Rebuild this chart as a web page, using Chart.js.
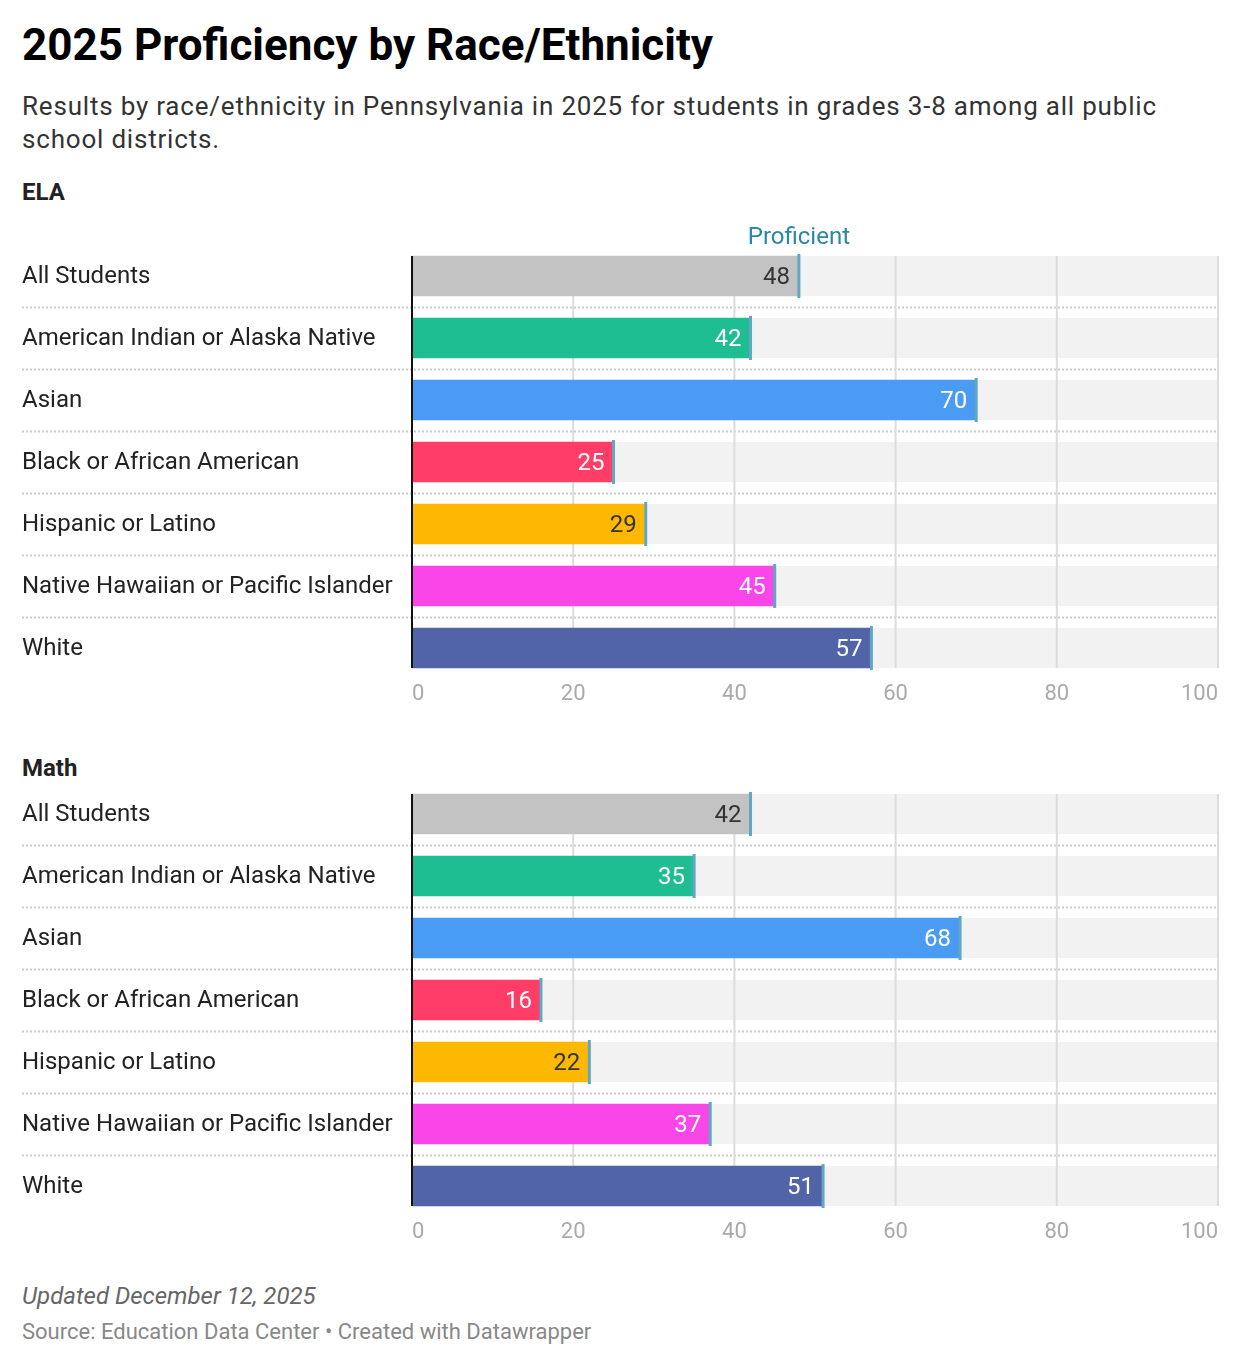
<!DOCTYPE html>
<html>
<head>
<meta charset="utf-8">
<script src="https://cdn.jsdelivr.net/npm/chart.js@4.4.1/dist/chart.umd.min.js"></script>
<style>
  html, body { margin: 0; padding: 0; background: #fff; }
  body { width: 1240px; height: 1366px; position: relative; font-family: Roboto, "Noto Sans", sans-serif; color: #222; }
  .txt { position: absolute; left: 22px; white-space: nowrap; }
  #title { top: 19px; font-size: 44px; line-height: 52px; font-weight: 700; color: #000; }
  #subtitle { top: 90px; font-size: 26px; line-height: 33px; letter-spacing: 0.8px; color: #333; white-space: normal; width: 1180px; }
  .section { font-size: 24px; line-height: 28px; font-weight: 700; color: #222; }
  #ela { top: 178px; }
  #math { top: 754px; }
  #updated { top: 1282px; font-size: 24px; line-height: 28px; font-style: italic; color: #666; }
  #source { top: 1319px; font-size: 22px; line-height: 26px; color: #888; }
  canvas { position: absolute; left: 0; }
  #elaChart { top: 215px; }
  #mathChart { top: 753px; }
</style>
</head>
<body>
<div class="txt" id="title">2025 Proficiency by Race/Ethnicity</div>
<div class="txt" id="subtitle">Results by race/ethnicity in Pennsylvania in 2025 for students in grades 3-8 among all public school districts.</div>
<div class="txt section" id="ela">ELA</div>
<div class="txt section" id="math">Math</div>
<canvas id="elaChart" width="1240" height="500" style="width:1240px;height:500px"></canvas>
<canvas id="mathChart" width="1240" height="500" style="width:1240px;height:500px"></canvas>
<div class="txt" id="updated">Updated December 12, 2025</div>
<div class="txt" id="source">Source: Education Data Center • Created with Datawrapper</div>

<script>
// Data
const categories = ['All Students', 'American Indian or Alaska Native', 'Asian', 'Black or African American',
  'Hispanic or Latino', 'Native Hawaiian or Pacific Islander', 'White'];
const elaValues = [48, 42, 70, 25, 29, 45, 57];
const mathValues = [42, 35, 68, 16, 22, 37, 51];
const barColors = ['#c3c3c3', '#1ebe92', '#4a9bf4', '#ff3d67', '#ffb800', '#fa46e8', '#5164a8'];
const valueLabelColors = ['#333', '#fff', '#fff', '#fff', '#333', '#fff', '#fff'];
const xTickValues = [0, 20, 40, 60, 80, 100];

const FONT = 'Roboto, "Noto Sans", sans-serif';

// Tracks, separators, gridlines, axis line, markers and value labels
const rowDecor = {
  id: 'rowDecor',
  beforeDatasetsDraw(chart) {
    const { ctx, chartArea, scales: { x } } = chart;
    const bars = chart.getDatasetMeta(0).data;
    const top = bars[0].y - bars[0].height / 2;
    const bottom = bars[bars.length - 1].y + bars[bars.length - 1].height / 2;
    const x0 = x.getPixelForValue(x.min), x1 = x.getPixelForValue(x.max);
    ctx.save();
    // background tracks
    ctx.fillStyle = '#f2f2f2';
    bars.forEach(b => ctx.fillRect(x0, b.y - b.height / 2, x1 - x0, b.height));
    // dotted separators between rows
    ctx.strokeStyle = '#cccccc';
    ctx.lineWidth = 2;
    ctx.setLineDash([2, 2]);
    for (let i = 1; i < bars.length; i++) {
      const yy = Math.round((bars[i - 1].y + bars[i].y) / 2) + 0.5;
      ctx.beginPath();
      ctx.moveTo(22, yy);
      ctx.lineTo(chartArea.right, yy);
      ctx.stroke();
    }
    // vertical gridlines
    ctx.setLineDash([]);
    ctx.strokeStyle = '#dcdcdc';
    ctx.lineWidth = 2;
    xTickValues.forEach(v => {
      if (v === x.min) return;
      const px = x.getPixelForValue(v);
      ctx.beginPath();
      ctx.moveTo(px, top);
      ctx.lineTo(px, bottom);
      ctx.stroke();
    });
    ctx.restore();
  },
  afterDatasetsDraw(chart, args, opts) {
    const { ctx, scales: { x } } = chart;
    const bars = chart.getDatasetMeta(0).data;
    const values = chart.data.datasets[0].data;
    const top = bars[0].y - bars[0].height / 2;
    const bottom = bars[bars.length - 1].y + bars[bars.length - 1].height / 2;
    ctx.save();
    // value labels
    ctx.font = '24px ' + FONT;
    ctx.textAlign = 'right';
    ctx.textBaseline = 'middle';
    bars.forEach((b, i) => {
      ctx.fillStyle = valueLabelColors[i];
      ctx.fillText(String(values[i]), b.x - 9, b.y + 2);
    });
    // proficient markers
    ctx.fillStyle = '#62a7c2';
    bars.forEach(b => ctx.fillRect(b.x - 1.5, b.y - b.height / 2 - 2, 3, b.height + 4));
    if (opts.markerLabel) {
      ctx.fillStyle = '#2a88a6';
      ctx.textAlign = 'center';
      ctx.textBaseline = 'alphabetic';
      ctx.fillText(opts.markerLabel, bars[0].x, top - 12);
    }
    // baseline axis
    const x0 = x.getPixelForValue(x.min);
    ctx.fillStyle = '#111';
    ctx.fillRect(x0 - 1, top, 2, bottom - top);
    ctx.restore();
  }
};

function makeChart(id, values, markerLabel) {
  return new Chart(document.getElementById(id), {
    type: 'bar',
    data: {
      labels: categories,
      datasets: [{
        data: values,
        backgroundColor: barColors,
        barThickness: 40,
        borderWidth: 0
      }]
    },
    options: {
      indexAxis: 'y',
      responsive: false,
      animation: false,
      devicePixelRatio: 1,
      layout: { padding: { left: 22, right: 22, top: 30, bottom: 6 } },
      plugins: {
        legend: { display: false },
        tooltip: { enabled: false },
        rowDecor: { markerLabel: markerLabel }
      },
      scales: {
        x: {
          min: 0,
          max: 100,
          grid: { display: false, drawTicks: false },
          border: { display: false },
          ticks: { stepSize: 20, color: '#aaa', padding: 2, align: 'inner', font: { family: FONT, size: 22 } },
          afterFit: s => { s.height = 30; }
        },
        y: {
          grid: { display: false, drawTicks: false },
          border: { display: false },
          ticks: { color: '#222', crossAlign: 'far', padding: 0, labelOffset: 1, font: { family: FONT, size: 24 } },
          afterFit: s => { s.width = 390; }
        }
      }
    },
    plugins: [rowDecor]
  });
}

makeChart('elaChart', elaValues, 'Proficient');
makeChart('mathChart', mathValues, null);
</script>
</body>
</html>
